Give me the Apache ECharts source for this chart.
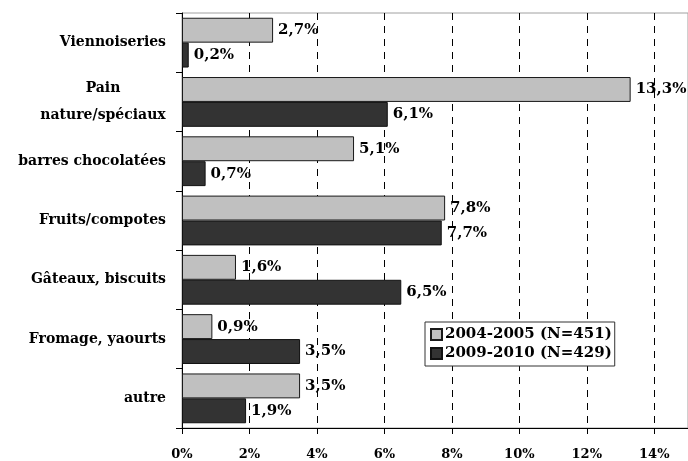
<!DOCTYPE html>
<html>
<head>
<meta charset="utf-8">
<script src="https://cdn.jsdelivr.net/npm/echarts@6/dist/echarts.min.js"></script>
<style>
  html, body { margin: 0; padding: 0; background: #fff; }
  #chart { width: 688px; height: 461px; }
</style>
</head>
<body>
<div id="chart"></div>
<script>
const categories = [
  "Viennoiseries",
  "Pain\nnature/spéciaux",
  "barres chocolatées",
  "Fruits/compotes",
  "Gâteaux, biscuits",
  "Fromage, yaourts",
  "autre",
];
const values2004 = [2.7, 13.3, 5.1, 7.8, 1.6, 0.9, 3.5];
const values2009 = [0.2, 6.1, 0.7, 7.7, 6.5, 3.5, 1.9];
const xTicks = [0, 2, 4, 6, 8, 10, 12, 14];
const seriesNames = ["2004-2005 (N=451)", "2009-2010 (N=429)"];

const FONT = "'DejaVu Serif', serif";
const CAT_SIZE = 14;
const pct = (v) => String(v).replace(".", ",") + "%";

// width of the longest line of a multi-line label, so its lines can be centred
function textWidth(s, size) {
  const ctx = document.createElement("canvas").getContext("2d");
  ctx.font = "bold " + size + "px " + FONT;
  return Math.ceil(ctx.measureText(s).width);
}

const chart = echarts.init(document.getElementById("chart"), null, { renderer: "canvas" });

const barLabel = {
  show: true,
  position: "right",
  distance: 5,
  color: "#000",
  fontFamily: FONT,
  fontWeight: "bold",
  fontSize: 15,
  formatter: (p) => pct(p.value),
};

chart.setOption({
  animation: false,
  textStyle: { fontFamily: FONT },
  grid: {
    left: 182,
    top: 13,
    width: 508,
    height: 416,
    show: true,
    borderColor: "#a0a0a0",
    borderWidth: 1,
    backgroundColor: "transparent",
  },
  legend: {
    orient: "vertical",
    left: 425,
    top: 322,
    padding: [5, 3, 5, 5],
    itemGap: 4,
    itemWidth: 11,
    itemHeight: 11,
    icon: "rect",
    borderColor: "#333",
    borderWidth: 1,
    backgroundColor: "#fff",
    textStyle: {
      color: "#000",
      fontFamily: FONT,
      fontWeight: "bold",
      fontSize: 15,
      padding: [0, 0, 0, -2],
    },
    data: seriesNames,
  },
  xAxis: {
    type: "value",
    min: 0,
    max: 15,
    interval: 2,
    axisLine: { show: true, lineStyle: { color: "#000", width: 1 } },
    axisTick: { show: true, length: 6, lineStyle: { color: "#000" } },
    splitLine: {
      show: true,
      lineStyle: { color: "#000", type: [7, 6], width: 1 },
    },
    axisLabel: {
      color: "#000",
      fontFamily: FONT,
      fontWeight: "bold",
      fontSize: 13,
      margin: 20,
      showMaxLabel: false,
      formatter: (v) => (xTicks.includes(v) ? v + "%" : ""),
    },
  },
  yAxis: {
    type: "category",
    inverse: true,
    data: categories,
    axisLine: { show: true, lineStyle: { color: "#000", width: 1 } },
    axisTick: { show: true, length: 6, lineStyle: { color: "#000" } },
    axisLabel: {
      color: "#000",
      fontFamily: FONT,
      fontWeight: "bold",
      fontSize: CAT_SIZE,
      margin: 16,
      lineHeight: 27,
      formatter: (v) =>
        v.includes("\n") ? v.split("\n").map((s) => "{c|" + s + "}").join("\n") : v,
      rich: {
        c: {
          width: textWidth("nature/spéciaux", CAT_SIZE),
          align: "center",
          color: "#000",
          fontFamily: FONT,
          fontWeight: "bold",
          fontSize: CAT_SIZE,
          lineHeight: 27,
        },
      },
    },
  },
  series: [
    {
      name: seriesNames[0],
      type: "bar",
      data: values2004,
      barGap: "0%",
      barCategoryGap: "16%",
      itemStyle: { color: "#c0c0c0", borderColor: "#1a1a1a", borderWidth: 1 },
      label: barLabel,
    },
    {
      name: seriesNames[1],
      type: "bar",
      data: values2009,
      barGap: "0%",
      barCategoryGap: "16%",
      itemStyle: { color: "#333333", borderColor: "#111", borderWidth: 1 },
      label: barLabel,
    },
  ],
});
</script>
</body>
</html>
